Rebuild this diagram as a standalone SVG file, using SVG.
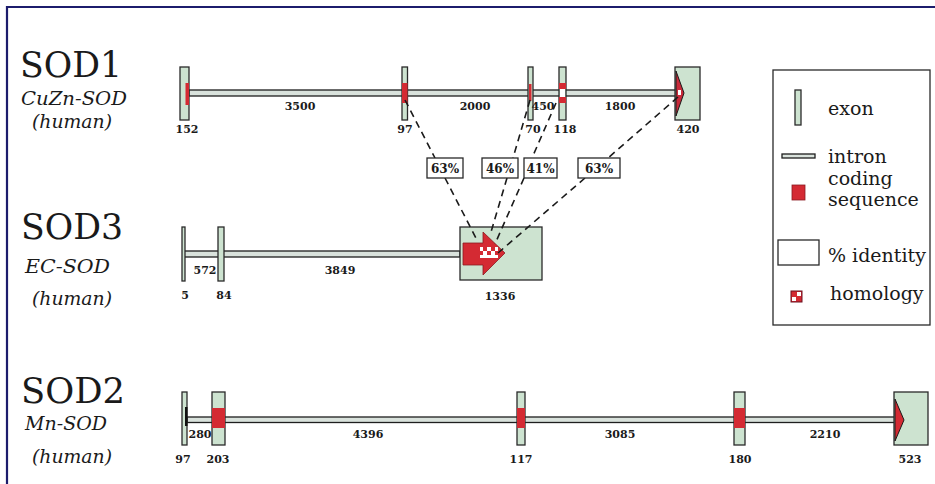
<svg xmlns="http://www.w3.org/2000/svg" width="935" height="484" viewBox="0 0 935 484">
<style>
text{font-family:'DejaVu Serif','Liberation Serif',serif}
.title{font-size:36px;fill:#1a1a1a}
.sub{font-style:italic;font-size:19px;fill:#1a1a1a}
.num{font-weight:bold;font-size:11px;fill:#1a1a1a;text-anchor:middle}
.pct{font-weight:bold;font-size:12px;fill:#1a1a1a;text-anchor:middle}
.leg{font-size:19px;fill:#1a1a1a}
.exon{fill:#cde3d0;stroke:#2a2a2a;stroke-width:1.3}
.intron{fill:#d9e2dc;stroke:#1e1e1e;stroke-width:1.3}
.cds{fill:#d42a33}
.pbox{fill:#ffffff;stroke:#2a2a2a;stroke-width:1.3}
.dash{stroke:#1a1a1a;stroke-width:1.6;stroke-dasharray:7,5;fill:none}
</style>
<rect width="935" height="484" fill="#ffffff"/>
<path d="M7 484 V7 H935" fill="none" stroke="#1c1c6c" stroke-width="2.2"/>

<g id="labels">
<text class="title" x="20" y="77" textLength="102" lengthAdjust="spacingAndGlyphs">SOD1</text>
<text class="sub" x="21" y="105" textLength="106" lengthAdjust="spacingAndGlyphs">CuZn-SOD</text>
<text class="sub" x="32" y="128" textLength="80" lengthAdjust="spacingAndGlyphs">(human)</text>
<text class="title" x="21" y="239" textLength="102" lengthAdjust="spacingAndGlyphs">SOD3</text>
<text class="sub" x="25" y="273" textLength="85" lengthAdjust="spacingAndGlyphs">EC-SOD</text>
<text class="sub" x="32" y="305" textLength="80" lengthAdjust="spacingAndGlyphs">(human)</text>
<text class="title" x="21" y="403" textLength="104" lengthAdjust="spacingAndGlyphs">SOD2</text>
<text class="sub" x="25" y="430" textLength="82" lengthAdjust="spacingAndGlyphs">Mn-SOD</text>
<text class="sub" x="32" y="463" textLength="80" lengthAdjust="spacingAndGlyphs">(human)</text>
</g>

<g id="sod1">
<rect class="intron" x="189" y="90" width="487" height="6"/>
<g id="sod1-e1"><rect class="exon" x="180" y="67" width="9" height="53"/><rect class="cds" x="185.5" y="83" width="3.5" height="22"/></g>
<g id="sod1-e2"><rect class="exon" x="402" y="67" width="5.5" height="53"/><rect class="cds" x="402" y="83" width="5.5" height="20"/></g>
<g id="sod1-e3"><rect class="exon" x="528" y="67" width="5" height="53"/><rect class="cds" x="529" y="84" width="2.5" height="17"/></g>
<g id="sod1-e4"><rect class="exon" x="559" y="67" width="7" height="53"/><rect class="cds" x="559" y="83" width="7" height="6"/><rect x="560" y="89" width="5" height="8" fill="#ffffff"/><rect class="cds" x="559" y="97" width="7" height="6"/></g>
<g id="sod1-e5"><rect class="exon" x="675" y="67" width="25" height="53"/><polygon points="676,71 684,93 676,116" fill="#c82a3a" stroke="#1a1a1a" stroke-width="1"/><rect x="678" y="90" width="3" height="5" fill="#ffffff"/></g>
<text class="num" x="187" y="133">152</text>
<text class="num" x="300" y="110">3500</text>
<text class="num" x="405" y="133">97</text>
<text class="num" x="475" y="110">2000</text>
<text class="num" x="543" y="110">450</text>
<text class="num" x="533" y="133">70</text>
<text class="num" x="565" y="133">118</text>
<text class="num" x="620" y="110">1800</text>
<text class="num" x="688" y="133">420</text>
</g>

<g id="sod3">
<rect class="intron" x="184" y="251" width="276" height="6"/>
<g id="sod3-e1"><rect class="exon" x="182" y="227" width="3" height="54"/></g>
<g id="sod3-e2"><rect class="exon" x="218" y="227" width="6" height="54"/></g>
<g id="sod3-e3"><rect class="exon" x="460" y="227" width="82" height="53"/>
<polygon points="463,243 483,243 483,232 505,253 483,275 483,265 463,265" fill="#d42a33" stroke="#8a1a22" stroke-width="0.8"/>
<rect x="480" y="247" width="18" height="11" fill="#ffffff"/>
<rect x="483" y="247" width="4" height="4" fill="#d42a33"/><rect x="491" y="247" width="4" height="4" fill="#d42a33"/>
<rect x="480" y="251" width="3" height="4" fill="#d42a33"/><rect x="487" y="251" width="4" height="4" fill="#d42a33"/><rect x="495" y="251" width="3" height="4" fill="#d42a33"/>
</g>
<text class="num" x="205" y="274">572</text>
<text class="num" x="340" y="274">3849</text>
<text class="num" x="185" y="299">5</text>
<text class="num" x="224" y="299">84</text>
<text class="num" x="500" y="300">1336</text>
</g>

<g id="sod2">
<rect class="intron" x="187" y="417" width="708" height="5.5"/>
<g id="sod2-e1"><rect class="exon" x="182" y="392" width="5" height="53"/><rect x="185" y="407" width="2.5" height="19" fill="#111"/></g>
<g id="sod2-e2"><rect class="exon" x="212" y="392" width="13" height="53"/><rect class="cds" x="212" y="408" width="13" height="20"/></g>
<g id="sod2-e3"><rect class="exon" x="517" y="392" width="8" height="53"/><rect class="cds" x="517" y="408" width="8" height="20"/></g>
<g id="sod2-e4"><rect class="exon" x="734" y="392" width="11" height="53"/><rect class="cds" x="734" y="408" width="11" height="20"/></g>
<g id="sod2-e5"><rect class="exon" x="894" y="392" width="34" height="53"/><polygon points="895,399 904,420 895,441" fill="#d42a33" stroke="#1a1a1a" stroke-width="1"/></g>
<text class="num" x="200" y="438">280</text>
<text class="num" x="368" y="438">4396</text>
<text class="num" x="620" y="438">3085</text>
<text class="num" x="825" y="438">2210</text>
<text class="num" x="183" y="463">97</text>
<text class="num" x="218" y="463">203</text>
<text class="num" x="521" y="463">117</text>
<text class="num" x="740" y="463">180</text>
<text class="num" x="910" y="463">523</text>
</g>

<g id="connectors">
<line class="dash" x1="405" y1="100" x2="435" y2="158"/>
<line class="dash" x1="445" y1="178" x2="478" y2="242"/>
<line class="dash" x1="530" y1="100" x2="513" y2="158"/>
<line class="dash" x1="507" y1="178" x2="491" y2="232"/>
<line class="dash" x1="556" y1="103" x2="532" y2="158"/>
<line class="dash" x1="524" y1="178" x2="495" y2="244"/>
<line class="dash" x1="678" y1="97" x2="608" y2="158"/>
<line class="dash" x1="585" y1="178" x2="498" y2="253"/>
</g>

<g id="identity">
<g id="p1"><rect class="pbox" x="427" y="158" width="36" height="20"/><text class="pct" x="445" y="173">63%</text></g>
<g id="p2"><rect class="pbox" x="482" y="158" width="36" height="20"/><text class="pct" x="500" y="173">46%</text></g>
<g id="p3"><rect class="pbox" x="524" y="158" width="33" height="20"/><text class="pct" x="540.5" y="173">41%</text></g>
<g id="p4"><rect class="pbox" x="578" y="158" width="42" height="20"/><text class="pct" x="599" y="173">63%</text></g>
</g>

<g id="legend">
<rect x="773" y="70" width="157" height="255" fill="#ffffff" stroke="#2a2a2a" stroke-width="1.3"/>
<rect class="exon" x="795" y="90" width="6" height="35"/>
<text class="leg" x="828" y="115">exon</text>
<rect class="intron" x="782" y="154" width="33" height="4"/>
<text class="leg" x="828" y="163">intron</text>
<rect x="792" y="185" width="13" height="15" fill="#d42a33" stroke="#8a1a22" stroke-width="0.8"/>
<text class="leg" x="828" y="185" font-size="18">coding</text>
<text class="leg" x="828" y="206" font-size="18">sequence</text>
<rect class="pbox" x="778" y="240" width="41" height="25"/>
<text class="leg" x="828" y="262">% identity</text>
<rect x="791" y="291" width="11" height="11" fill="#d42a33" stroke="#6a1020" stroke-width="1"/>
<rect x="797" y="292" width="4" height="4" fill="#ffffff"/>
<rect x="792" y="297" width="4" height="4" fill="#ffffff"/>
<text class="leg" x="830" y="300">homology</text>
</g>
</svg>
